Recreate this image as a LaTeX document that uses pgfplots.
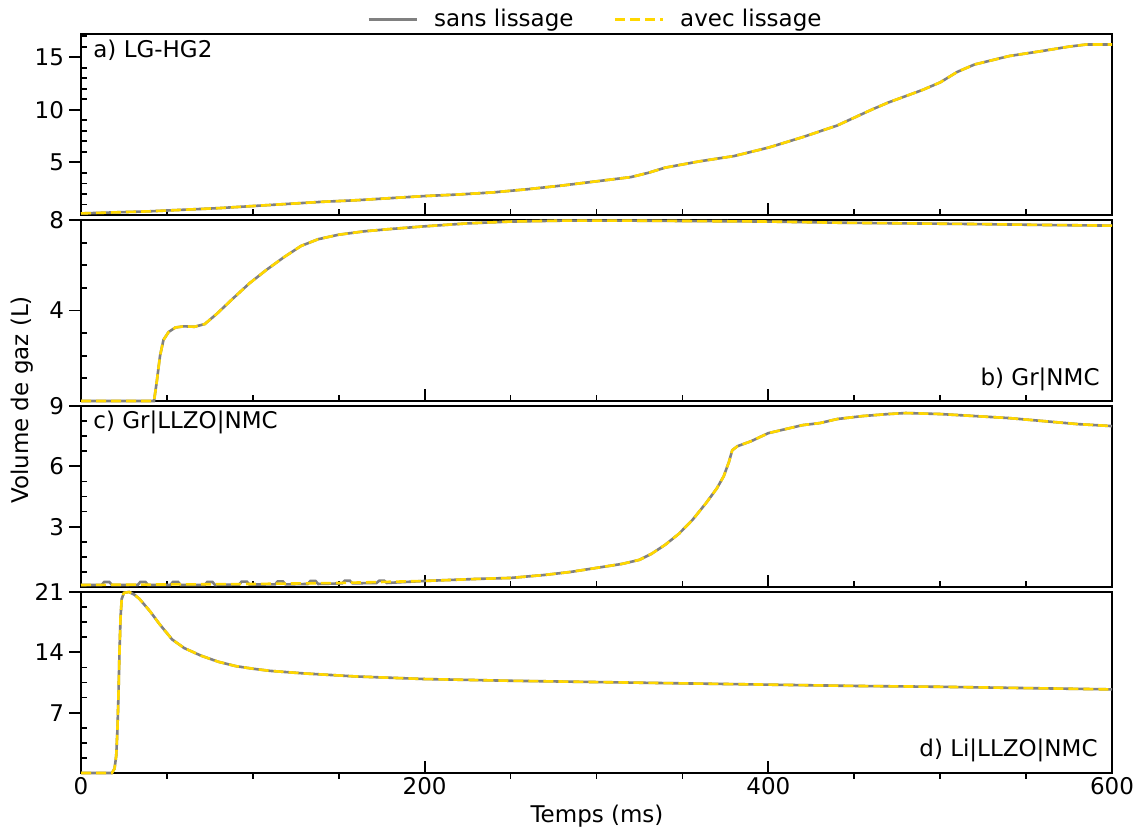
\documentclass[border=0pt]{standalone}
\usepackage{fontspec}
\setmainfont{DejaVu Sans}
\usepackage{pgfplots}
\usepackage{pgfplotstable}
\pgfplotsset{compat=1.18}
\definecolor{lgray}{HTML}{808080}
\definecolor{gold}{HTML}{FFD700}

\pgfplotstableread{
x y
0 0.15
20 0.25
40 0.35
60 0.5
80 0.65
100 0.85
120 1.05
140 1.25
160 1.4
180 1.6
200 1.8
220 1.95
240 2.15
260 2.45
280 2.8
300 3.2
320 3.6
330 4.0
340 4.5
350 4.8
360 5.1
380 5.6
400 6.4
420 7.4
440 8.5
460 10.0
470 10.7
480 11.3
490 11.9
500 12.6
510 13.6
520 14.3
530 14.7
540 15.1
560 15.6
575 16.0
585 16.2
600 16.2
}\dataA

\pgfplotstableread{
x y
0 0
42.5 0
44 0.8
46 2.0
48 2.7
51 3.05
55 3.25
60 3.3
66 3.28
72 3.4
79 3.85
88 4.5
98 5.2
108 5.8
118 6.35
128 6.85
138 7.15
150 7.35
165 7.5
180 7.6
200 7.72
225 7.85
250 7.93
280 7.97
320 7.97
360 7.95
400 7.93
440 7.88
480 7.85
520 7.82
560 7.78
600 7.75
}\dataB

\pgfplotstableread{
x y
0 0.1
100 0.15
150 0.2
200 0.3
230 0.4
250 0.45
270 0.6
285 0.75
300 0.95
315 1.15
325 1.35
332 1.65
340 2.1
348 2.65
356 3.35
364 4.2
370 4.9
374 5.5
377 6.2
379 6.8
382 7.0
390 7.25
400 7.65
410 7.85
420 8.05
430 8.15
440 8.35
455 8.5
470 8.6
480 8.65
500 8.6
520 8.5
540 8.4
560 8.25
580 8.1
600 8.0
}\dataCs

\pgfplotstableread{
x y
0 0.1
12 0.1
13.5 0.25
16.5 0.25
18 0.1
33 0.1
34.5 0.25
37.5 0.25
39 0.1
52 0.1
53.5 0.25
56.5 0.25
58 0.1
72 0.1
73.5 0.25
76.5 0.25
78 0.1
92 0.12
93.5 0.27
96.5 0.27
98 0.12
113 0.13
114.5 0.28
117.5 0.28
119 0.13
132 0.15
133.5 0.3
136.5 0.3
138 0.15
152 0.18
153.5 0.31
156.5 0.31
158 0.18
172 0.2
173.5 0.31
176.5 0.31
178 0.2
200 0.3
230 0.4
250 0.45
270 0.6
285 0.75
300 0.95
315 1.15
325 1.35
332 1.65
340 2.1
348 2.65
356 3.35
364 4.2
370 4.9
374 5.5
377 6.2
379 6.8
382 7.0
390 7.25
400 7.65
410 7.85
420 8.05
430 8.15
440 8.35
455 8.5
470 8.6
480 8.65
500 8.6
520 8.5
540 8.4
560 8.25
580 8.1
600 8.0
}\dataCg

\pgfplotstableread{
x y
0 0
18 0
19.5 0.5
20.5 2
21.2 5
21.8 9
22.4 14
23 18
23.7 20.2
25 20.9
28 21.0
31 20.7
34 20.2
40 18.8
46 17.2
53 15.5
60 14.5
70 13.6
80 12.9
90 12.4
100 12.1
110 11.85
130 11.55
160 11.2
200 10.9
250 10.7
300 10.55
350 10.4
400 10.25
450 10.1
500 10.0
550 9.85
600 9.7
}\dataD

\tikzset{plabel/.style={inner sep=0pt, font=\fontsize{11.5}{13.8}\selectfont}}

\pgfplotsset{
  panel/.style={
    scale only axis, width=515.5pt, height=90.5pt,
    anchor=south west,
    xmin=0, xmax=600, xtick={0,200,400,600}, minor x tick num=3,
    xtick pos=lower, ytick pos=left,
    tick align=inside, major tick length=6pt, minor tick length=3pt,
    every tick/.style={black, line width=0.9pt},
    every major y tick/.append style={xshift=-6pt},
    yticklabel style={xshift=-5pt},
    axis line style={line width=1pt},
    font=\fontsize{11.5}{13.8}\selectfont,
    /pgf/number format/assume math mode=true,
    clip=false,
  },
  gline/.style={lgray, line width=1.3pt},
  yline/.style={gold, line width=1.3pt, dash pattern=on 5pt off 2.5pt},
}

\begin{document}
\begin{tikzpicture}
\useasboundingbox (0,0) rectangle (573pt,417pt);

% panel a
\begin{axis}[panel, at={(40.5pt,309.5pt)},
  ymin=0, ymax=17.2, ytick={5,10,15},
  minor ytick={1,2,3,4,6,7,8,9,11,12,13,14,16,17},
  xticklabels={},
  legend columns=2,
  legend style={at={(0.5,1)}, anchor=south, yshift=-2pt, draw=none, fill=none,
    font=\fontsize{11.5}{13.8}\selectfont,
    /tikz/every odd column/.append style={column sep=6pt},
    /tikz/every even column/.append style={column sep=18pt}},
  legend image code/.code={\draw[#1] (0pt,0pt) -- (24pt,0pt);},
]
\addplot[gline] table[x=x,y=y] {\dataA};
\addlegendentry{sans lissage}
\addplot[yline] table[x=x,y=y] {\dataA};
\addlegendentry{avec lissage}
\node[plabel, anchor=base west, xshift=6pt, yshift=-12pt] at (rel axis cs:0,1) {a) LG-HG2};
\end{axis}

% panel b
\begin{axis}[panel, at={(40.5pt,216.5pt)},
  ymin=0, ymax=8, ytick={4,8},
  minor ytick={1,2,3,5,6,7},
  xticklabels={},
]
\addplot[gline] table[x=x,y=y] {\dataB};
\addplot[yline] table[x=x,y=y] {\dataB};
\node[plabel, anchor=base east, xshift=-6pt, yshift=7.5pt] at (rel axis cs:1,0) {b) Gr|NMC};
\end{axis}

% panel c
\begin{axis}[panel, at={(40.5pt,123.5pt)},
  ymin=0, ymax=9, ytick={3,6,9},
  minor ytick={0.75,1.5,2.25,3.75,4.5,5.25,6.75,7.5,8.25},
  xticklabels={},
]
\addplot[gline] table[x=x,y=y] {\dataCg};
\addplot[yline] table[x=x,y=y] {\dataCs};
\node[plabel, anchor=base west, xshift=6pt, yshift=-11.5pt] at (rel axis cs:0,1) {c) Gr|LLZO|NMC};
\end{axis}

% panel d
\begin{axis}[panel, at={(40.5pt,30.5pt)},
  ymin=0, ymax=21, ytick={7,14,21},
  minor ytick={1.75,3.5,5.25,8.75,10.5,12.25,15.75,17.5,19.25},
  every minor x tick/.append style={yshift=-3pt},
  xticklabels={0,200,400,600},
  xticklabel style={yshift=1.2pt},
]
\addplot[gline] table[x=x,y=y] {\dataD};
\addplot[yline] table[x=x,y=y] {\dataD};
\node[plabel, anchor=base east, xshift=-7pt, yshift=8pt] at (rel axis cs:1,0) {d) Li|LLZO|NMC};
\end{axis}

\node[rotate=90, font=\fontsize{11.5}{13.8}\selectfont] at (11pt,217pt) {Volume de gaz (L)};
\node[font=\fontsize{11.5}{13.8}\selectfont] at (298.5pt,9pt) {Temps (ms)};
\end{tikzpicture}
\end{document}
